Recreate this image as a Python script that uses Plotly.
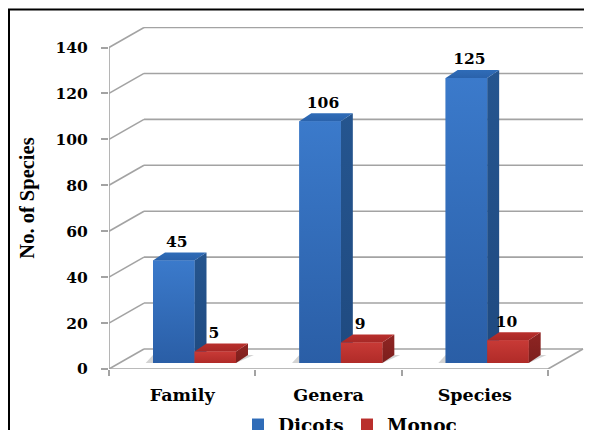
import plotly.graph_objects as go

categories = ["Family", "Genera", "Species"]
dicots = [45, 106, 125]
monocots = [5, 9, 10]
y_ticks = [0, 20, 40, 60, 80, 100, 120, 140]

W, H = 592, 430
PAGE = 8  # the page's own margin
L, R, T, B = 109, 585, 27, 369
X_UNIT = 146.33
Y_UNIT = 321.5 / 140
xmax = (R - L) / X_UNIT
ymax = (B - T) / Y_UNIT
DX, DY = 35 / X_UNIT, 20 / Y_UNIT
BAR_W = 41.5 / X_UNIT
BAR_X0 = 44 / X_UNIT
BASE = 6 / Y_UNIT
DEPTH_X, DEPTH_Y = 12 / X_UNIT, 8 / Y_UNIT
SCALE = 0.993
GRID = "#a3a3a3"
SERIF = "DejaVu Serif"

shapes = []
def seg(x0, y0, x1, y1):
    shapes.append(dict(type="line", xref="x", yref="y", x0=x0, y0=y0, x1=x1, y1=y1,
                       layer="below", line=dict(color=GRID, width=1.6)))

for v in y_ticks:
    seg(0, v, DX, v + DY)
    seg(DX, v + DY, 3 + DX, v + DY)
seg(0, 0, 0, y_ticks[-1])
seg(0, 0, 3, 0)
seg(3, 0, 3 + DX, DY)

# frame (top and left edges only)
px = lambda p: (p - L) / (R - L)
py = lambda p: (B - p) / (B - T)
for a, b, c, d in [(9, 430, 9, 9.5), (8, 9.5, 592, 9.5)]:
    shapes.append(dict(type="line", xref="paper", yref="paper", x0=px(a), y0=py(b), x1=px(c), y1=py(d),
                       line=dict(color="black", width=2)))

fig = go.Figure()
centers_blue = [i + BAR_X0 + BAR_W / 2 for i in range(3)]
centers_red = [i + BAR_X0 + BAR_W * 1.5 for i in range(3)]

fig.add_trace(go.Bar(name="Dicots", x=centers_blue, y=[v * SCALE for v in dicots], base=BASE, width=BAR_W,
                     marker=dict(color="#2f6cb8", line=dict(width=0)), showlegend=True))
fig.add_trace(go.Bar(name="Monocots", x=centers_red, y=[v * SCALE for v in monocots], base=BASE, width=BAR_W,
                     marker=dict(color="#b92f2c", line=dict(width=0)), showlegend=True))


def poly(xs, ys, colors):
    fig.add_trace(go.Scatter(
        x=xs + xs[:1], y=ys + ys[:1], mode="lines", line=dict(width=0), fill="toself",
        fillgradient=dict(type="vertical", colorscale=[[0, colors[0]], [1, colors[1]]]),
        showlegend=False, hoverinfo="skip"))


def box(cx, value, front, side, top):
    x0, x1 = cx - BAR_W / 2, cx + BAR_W / 2
    yb, yt = BASE, BASE + value * SCALE
    poly([x1, x1 + DEPTH_X, x1 + DEPTH_X, x1], [yb, yb + DEPTH_Y, yt + DEPTH_Y, yt], side)
    poly([x0, x1, x1 + DEPTH_X, x0 + DEPTH_X], [yt, yt, yt + DEPTH_Y, yt + DEPTH_Y], top)
    poly([x0, x1, x1, x0], [yb, yb, yt, yt], front)


# soft floor shadow
for i in range(3):
    x0 = centers_blue[i] - BAR_W / 2
    x1 = centers_red[i] + BAR_W / 2
    sx = [x0 - 0.05, x1, x1 + DEPTH_X + 0.04, x1 + DEPTH_X, x0]
    sy = [BASE, BASE, BASE + DEPTH_Y, BASE + DEPTH_Y, BASE + DEPTH_Y]
    fig.add_trace(go.Scatter(x=sx + sx[:1], y=sy + sy[:1], mode="lines", line=dict(width=0), fill="toself",
                             fillcolor="rgba(130,130,130,0.35)", showlegend=False, hoverinfo="skip"))

BLUE = (("#2a5ea6", "#3b7acb"), ("#1f4a80", "#25558f"), ("#2a62ab", "#2f6cb8"))
RED = (("#b02b28", "#c83a36"), ("#7c1e1c", "#8f2523"), ("#a62826", "#b92f2c"))
for i in range(3):
    box(centers_blue[i], dicots[i], *BLUE)
    box(centers_red[i], monocots[i], *RED)

LABEL_GAP = 9.5 / Y_UNIT
label_font = dict(family=SERIF, size=15.5, color="black", weight="bold")
fig.add_trace(go.Scatter(
    x=[c + 0.02 for c in centers_blue],
    y=[BASE + v * SCALE + DEPTH_Y + LABEL_GAP for v in dicots],
    text=[str(v) for v in dicots], mode="text", textfont=label_font, showlegend=False, hoverinfo="skip"))
fig.add_trace(go.Scatter(
    x=[c - 0.01 for c in centers_red],
    y=[BASE + v * SCALE + DEPTH_Y + LABEL_GAP for v in monocots],
    text=[str(v) for v in monocots], mode="text", textfont=label_font, showlegend=False, hoverinfo="skip"))

fig.update_layout(
    width=W - PAGE, height=H - PAGE, paper_bgcolor="white", plot_bgcolor="white",
    margin=dict(l=L - PAGE, r=W - R, t=T - PAGE, b=H - B, autoexpand=False, pad=0),
    autosize=False, shapes=shapes, barmode="overlay",
    legend=dict(orientation="h", x=(238 - L) / (R - L), xanchor="left", y=py(406), yanchor="top",
                font=dict(family=SERIF, size=18.5, color="black", weight="bold"),
                bgcolor="rgba(0,0,0,0)", entrywidth=64, entrywidthmode="pixels"),
    xaxis=dict(range=[0, xmax], tickmode="array", tickvals=[0.5, 1.5, 2.5], ticktext=categories,
               showgrid=False, zeroline=False, showline=False, ticks="", ticklabelstandoff=13,
               tickfont=dict(family=SERIF, size=17.5, color="black", weight="bold"),
               minor=dict(tickmode="array", tickvals=[0, 1, 2, 3], ticks="outside", ticklen=6, tickwidth=1.6,
                          tickcolor=GRID, showgrid=False)),
    yaxis=dict(range=[0, ymax], tickmode="array", tickvals=y_ticks, showgrid=False, zeroline=False,
               showline=False, ticks="outside", ticklen=7, tickwidth=1.6, tickcolor=GRID, ticklabelstandoff=10,
               tickfont=dict(family=SERIF, size=15.5, color="black", weight="bold"),
               title=dict(text="No. of Species", standoff=15,
                          font=dict(family="Liberation Serif", size=20.5, color="black", weight="bold"))),
)
fig.write_html("out.html")
